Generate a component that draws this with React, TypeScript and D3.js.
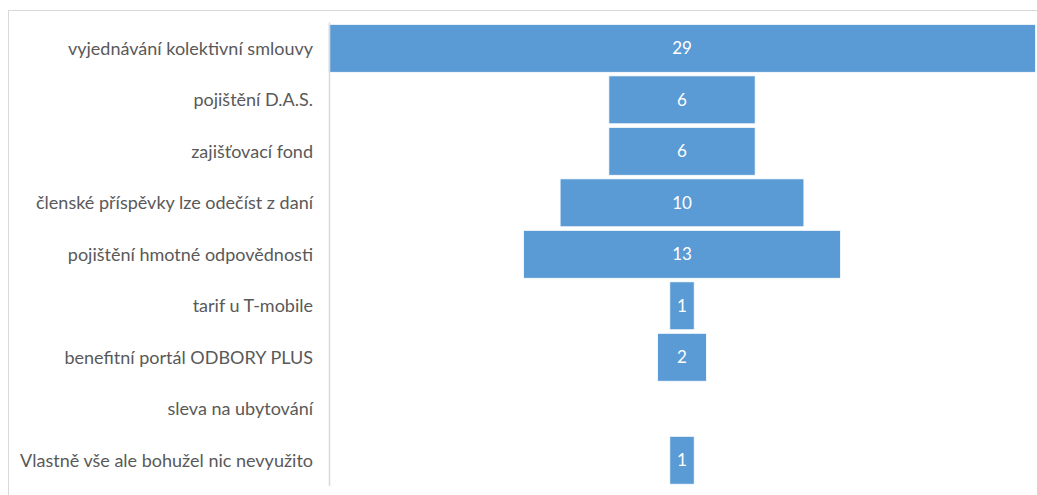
import React from "react";
import * as d3 from "d3";

const categories = [
  "vyjednávání kolektivní smlouvy",
  "pojištění D.A.S.",
  "zajišťovací fond",
  "členské příspěvky lze odečíst z daní",
  "pojištění hmotné odpovědnosti",
  "tarif u T-mobile",
  "benefitní portál ODBORY PLUS",
  "sleva na ubytování",
  "Vlastně vše ale bohužel nic nevyužito",
];
const values = [29, 6, 6, 10, 13, 1, 2, 0, 1];

const W = 1037;
const H = 495;
const axisX = 329;
const centerX = 682;
const top = 22.6;
const bottom = 486;

export default function App() {
  const y = d3.scaleBand<string>().domain(categories).range([top, bottom]).paddingInner(0.07).paddingOuter(0.035);
  const w = d3.scaleLinear().domain([0, 29]).range([0, 707]);
  const font = "Lato, 'Open Sans', sans-serif";
  return (
    <svg width={W} height={H} style={{ position: "absolute", left: 0, top: 0, background: "#fff" }}>
      <rect x={8.5} y={10.5} width={W + 20} height={H + 20} fill="#fff" stroke="#d9d9d9" strokeWidth={1} />
      {categories.map((c, i) => {
        const v = values[i];
        const bw = w(v);
        const by = y(c)!;
        const bh = y.bandwidth();
        return (
          <g key={c}>
            {v > 0 && (
              <rect x={centerX - bw / 2} y={by} width={bw} height={bh} fill="#5b9bd5" stroke="#ffffff" strokeWidth={0.75} />
            )}
            {v > 0 && (
              <text x={centerX} y={by + bh / 2} dy="0.36em" textAnchor="middle" fill="#ffffff" fontFamily={font} fontSize={17}>
                {v}
              </text>
            )}
            <text x={axisX - 16} y={by + bh / 2} dy="0.36em" textAnchor="end" fill="#595959" fontFamily={font} fontSize={18}>
              {c}
            </text>
          </g>
        );
      })}
      <line x1={axisX + 0.5} x2={axisX + 0.5} y1={top} y2={bottom} stroke="#d9d9d9" strokeWidth={1.5} />
    </svg>
  );
}
